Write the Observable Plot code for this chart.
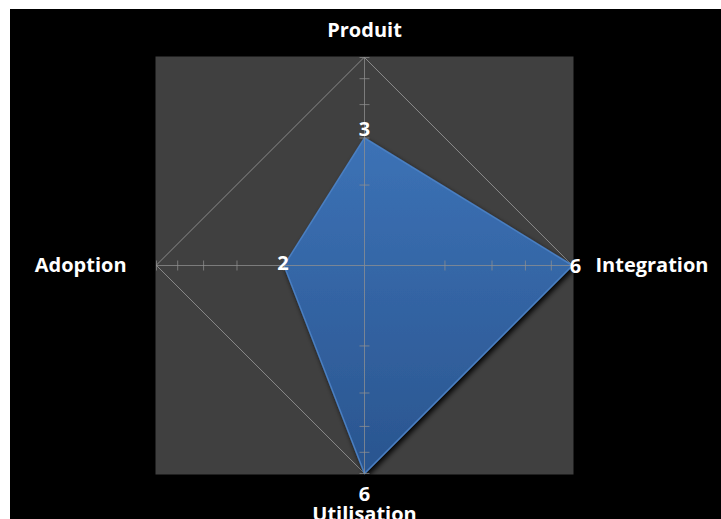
<!DOCTYPE html>
<html>
<head>
<meta charset="utf-8">
<script src="https://cdn.jsdelivr.net/npm/d3@7"></script>
<script src="https://cdn.jsdelivr.net/npm/@observablehq/plot@0.6"></script>
<style>
  html, body { margin: 0; padding: 0; background: #ffffff; }
  #chart { position: absolute; left: 10px; top: 9px; width: 711px; height: 510px; background: #000; overflow: hidden; }
  #chart svg { display: block; }
</style>
</head>
<body>
<div id="chart"></div>
<script>
// Data
const axesNames = ["Produit", "Integration", "Utilisation", "Adoption"];
const values = [3, 6, 6, 2];
const tickValues = [2, 3, 4, 5, 6];
const scaleMin = 1;
const scaleMax = 6;

// Radial (logarithmic) scale: center = 1, outer ring = 6
const rScale = d3.scaleLog().domain([scaleMin, scaleMax]).range([0, 1]);
const angleOf = i => (i * 2 * Math.PI) / axesNames.length; // clockwise from top
const px = (v, i) => rScale(v) * Math.sin(angleOf(i));
const py = (v, i) => rScale(v) * Math.cos(angleOf(i));

const points = axesNames.map((name, i) => ({name, value: values[i], x: px(values[i], i), y: py(values[i], i)}));
const spokes = axesNames.map((name, i) => ({x1: 0, y1: 0, x2: px(scaleMax, i), y2: py(scaleMax, i)}));
const ring = axesNames.map((name, i) => ({x: px(scaleMax, i), y: py(scaleMax, i)}));
const half = 5 / 208; // half tick length in radial units
const ticks = [];
axesNames.forEach((name, i) => {
  tickValues.forEach(t => {
    const cx = px(t, i), cy = py(t, i);
    const a = angleOf(i);
    const nx = Math.cos(a) * half, ny = -Math.sin(a) * half;
    ticks.push({x1: cx - nx, y1: cy - ny, x2: cx + nx, y2: cy + ny});
  });
});

const D = 1.005;

const defs = () => {
  const g = d3.create("svg:defs");
  const lg = g.append("linearGradient").attr("id", "blueGrad").attr("x1", 0).attr("y1", 0).attr("x2", 0).attr("y2", 1);
  lg.append("stop").attr("offset", "0%").attr("stop-color", "#3c72b6");
  lg.append("stop").attr("offset", "100%").attr("stop-color", "#2a558f");
  const f = g.append("filter").attr("id", "shadow").attr("x", "-20%").attr("y", "-20%").attr("width", "140%").attr("height", "140%");
  f.append("feDropShadow").attr("dx", 2).attr("dy", 3).attr("stdDeviation", 2.5).attr("flood-color", "#000").attr("flood-opacity", 0.9);
  return g.node();
};

const font = "'Open Sans', sans-serif";
const labelOpts = {fill: "#fff", fontSize: 20, fontWeight: "bold", fontFamily: font, stroke: null};

const nameOffsets = [
  {dx: 0, dy: -27, anchor: "middle"},
  {dx: 23, dy: 0, anchor: "start"},
  {dx: 0, dy: 41, anchor: "middle"},
  {dx: -30, dy: 0, anchor: "end"}
];
const valueOffsets = [
  {dx: 0, dy: -8},
  {dx: 3, dy: 1},
  {dx: 0, dy: 21},
  {dx: -1, dy: -2}
];

const outer = axesNames.map((name, i) => ({name, i, x: px(scaleMax, i), y: py(scaleMax, i)}));

const plot = Plot.plot({
  width: 711,
  height: 510,
  marginLeft: 145,
  marginRight: 148,
  marginTop: 47,
  marginBottom: 45,
  style: {background: "#000", fontFamily: font, overflow: "visible"},
  x: {domain: [-D, D], axis: null},
  y: {domain: [-D, D], axis: null},
  marks: [
    defs,
    Plot.frame({fill: "#404040", stroke: null}),
    Plot.line(ring, {x: "x", y: "y", curve: "linear-closed", stroke: "#8a8a8a", strokeWidth: 1}),
    Plot.line(points, {x: "x", y: "y", curve: "linear-closed", fill: "url(#blueGrad)", stroke: "#4a7fc2", strokeWidth: 1.5, strokeLinejoin: "round"}),
    Plot.link(spokes, {x1: "x1", y1: "y1", x2: "x2", y2: "y2", stroke: "#909090", strokeOpacity: 0.75, strokeWidth: 1}),
    Plot.link(ticks, {x1: "x1", y1: "y1", x2: "x2", y2: "y2", stroke: "#909090", strokeOpacity: 0.75, strokeWidth: 1}),
    ...axesNames.map((name, i) => Plot.text(outer.filter(d => d.i === i), {x: "x", y: "y", text: "name", dx: nameOffsets[i].dx, dy: nameOffsets[i].dy, textAnchor: nameOffsets[i].anchor, ...labelOpts})),
    ...axesNames.map((name, i) => Plot.text(points.filter(d => d.name === name), {x: "x", y: "y", text: d => String(d.value), dx: valueOffsets[i].dx, dy: valueOffsets[i].dy, ...labelOpts}))
  ]
});
d3.select(plot).selectAll('[fill="url(#blueGrad)"]').attr("filter", "url(#shadow)");
document.getElementById("chart").appendChild(plot);
</script>
</body>
</html>
